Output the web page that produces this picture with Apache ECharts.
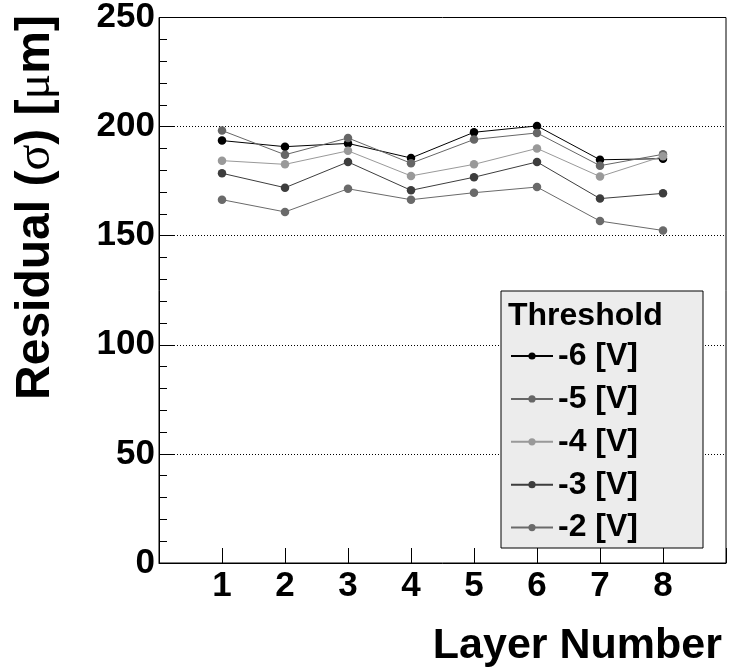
<!DOCTYPE html>
<html><head><meta charset="utf-8">
<script src="https://cdn.jsdelivr.net/npm/echarts@6/dist/echarts.min.js"></script>
<style>html,body{margin:0;padding:0;background:#fff}#c{width:729px;height:669px}</style>
</head><body><div id="c"></div>
<script>
const layers = [1, 2, 3, 4, 5, 6, 7, 8];
const seriesNames = ['-6 [V]', '-5 [V]', '-4 [V]', '-3 [V]', '-2 [V]'];
const vMinus6 = [193.6, 190.8, 192.3, 185.6, 197.4, 200.3, 184.8, 185.3];
const vMinus5 = [198.2, 187.1, 194.8, 183.2, 194.1, 197.1, 182.1, 187.3];
const vMinus4 = [184.4, 182.7, 188.9, 177.4, 182.7, 190.0, 177.1, 186.4];
const vMinus3 = [178.6, 172.0, 183.8, 170.8, 176.8, 183.8, 167.0, 169.4];
const vMinus2 = [166.5, 160.9, 171.5, 166.5, 169.7, 172.3, 156.7, 152.4];
const yTicks = [0, 50, 100, 150, 200, 250];
const legendTitle = 'Threshold';
const xTitle = 'Layer Number';

const allValues = [vMinus6, vMinus5, vMinus4, vMinus3, vMinus2];
const colors = ['#000000', '#666666', '#999999', '#3d3d3d', '#6a6a6a'];
const FONT = '"Liberation Sans", Arial, Helvetica, sans-serif';

const chart = echarts.init(document.getElementById('c'), null, {renderer: 'canvas'});
chart.setOption({
  animation: false,
  backgroundColor: '#ffffff',
  grid: {left: 159, right: 1, top: 16, bottom: 106, show: true, borderColor: '#000', borderWidth: 1, backgroundColor: 'transparent'},
  xAxis: {
    type: 'value', min: 0, max: 9, interval: 1,
    axisLine: {show: true, onZero: false, lineStyle: {color: '#000', width: 1}},
    axisTick: {show: true, inside: true, length: 15, lineStyle: {color: '#000'}},
    splitLine: {show: false},
    axisLabel: {
      fontFamily: FONT, fontWeight: 'bold', fontSize: 35, color: '#000', margin: 6,
      formatter: v => (layers.indexOf(v) >= 0 ? String(v) : '')
    }
  },
  yAxis: {
    type: 'value', min: yTicks[0], max: yTicks[yTicks.length - 1], interval: 50,
    axisLine: {show: true, lineStyle: {color: '#000', width: 1}},
    axisTick: {show: true, inside: true, length: 16, lineStyle: {color: '#000'}},
    minorTick: {show: true, splitNumber: 5, length: 8, lineStyle: {color: '#000'}},
    splitLine: {show: true, lineStyle: {color: '#000', type: [1, 2], width: 1}},
    axisLabel: {
      fontFamily: FONT, fontWeight: 'bold', fontSize: 35, color: '#000', margin: 4,
      verticalAlign: 'middle', padding: [12, 0, 0, 0]
    }
  },
  legend: {
    orient: 'vertical', left: 510, top: 340, padding: 0,
    itemWidth: 42, itemHeight: 9, itemGap: 10.9,
    z: 20,
    textStyle: {fontFamily: FONT, fontWeight: 'bold', fontSize: 32, lineHeight: 31, color: '#000', padding: [0, 0, 0, 0]},
    data: seriesNames
  },
  graphic: [
    {type: 'rect', z: 10, shape: {x: 501, y: 291, width: 202, height: 257},
     style: {fill: '#ececec', stroke: '#000', lineWidth: 1}},
    {type: 'text', z: 21, x: 508, y: 316,
     style: {text: legendTitle, font: 'bold 32px ' + FONT, fill: '#000', verticalAlign: 'middle', align: 'left'}},
    {type: 'text', z: 21, x: 722, y: 646,
     style: {text: xTitle, font: 'bold 43px ' + FONT, fill: '#000', verticalAlign: 'middle', align: 'right'}},
    {type: 'text', z: 21, x: 36, y: 15, rotation: Math.PI / 2,
     style: {
       text: '{b|Residual (}{s|σ}{b|) [}{s|μ}{b|m]}',
       align: 'right', verticalAlign: 'middle',
       rich: {
         b: {fontFamily: FONT, fontWeight: 'bold', fontSize: 48, fill: '#000'},
         s: {fontFamily: '"Liberation Serif", serif', fontWeight: 'normal', fontSize: 48, fill: '#000'}
       }
     }}
  ],
  series: allValues.map((vals, i) => ({
    name: seriesNames[i],
    type: 'line',
    data: layers.map((x, j) => [x, vals[j]]),
    symbol: 'circle', symbolSize: 8.5,
    lineStyle: {color: colors[i], width: 1},
    itemStyle: {color: colors[i]},
    z: 5 + i
  }))
});
</script>
</body></html>
